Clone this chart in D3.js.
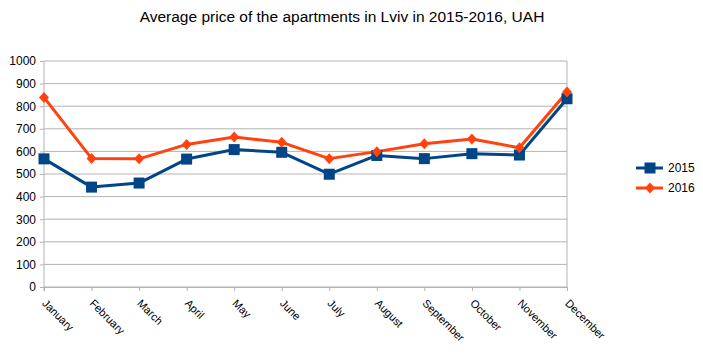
<!DOCTYPE html>
<html>
<head>
<meta charset="utf-8">
<script src="https://cdnjs.cloudflare.com/ajax/libs/d3/7.8.5/d3.min.js"></script>
<style>
  body { margin: 0; background: #fff; }
  svg { font-family: "Liberation Sans", Arial, sans-serif; }
</style>
</head>
<body>
<svg id="vis_svg" width="703" height="357"></svg>
<script>
// chart data
let months = ['January', 'February', 'March', 'April', 'May', 'June',
    'July', 'August', 'September', 'October', 'November', 'December'];
let prices2015 = [567, 442, 460, 566, 608, 596, 499, 582, 568, 590, 584, 833];
let prices2016 = [839, 569, 567, 631, 664, 640, 568, 599, 634, 655, 616, 863];
let yTicks = [0, 100, 200, 300, 400, 500, 600, 700, 800, 900, 1000];
let seriesNames = ['2015', '2016'];
let seriesColors = ['#004586', '#ff420e'];

let svg = d3.select('svg#vis_svg');

let plotLeft = 44, plotRight = 567, plotTop = 61, plotBottom = 287;

let x = d3.scalePoint().domain(months).range([plotLeft, plotRight]);
let y = d3.scaleLinear().domain([0, 1000]).range([plotBottom, plotTop]);

// title
svg.append('text')
    .attr('x', 342)
    .attr('y', 22)
    .attr('text-anchor', 'middle')
    .style('font-size', '15.5px')
    .text('Average price of the apartments in Lviv in 2015-2016, UAH');

// gridlines
svg.append('g')
    .selectAll('line')
    .data(yTicks)
    .enter()
    .append('line')
    .attr('x1', plotLeft)
    .attr('x2', plotRight)
    .attr('y1', d => y(d))
    .attr('y2', d => y(d))
    .attr('stroke', '#b3b3b3')
    .attr('stroke-width', 1);

// right border
svg.append('line')
    .attr('x1', plotRight).attr('x2', plotRight)
    .attr('y1', plotTop).attr('y2', plotBottom)
    .attr('stroke', '#b3b3b3');

// y axis
let yAxis = svg.append('g')
    .attr('transform', 'translate(' + plotLeft + ',0)')
    .call(d3.axisLeft(y).tickValues(yTicks).tickFormat(d3.format('d')).tickSize(4).tickPadding(4));
yAxis.select('.domain').attr('stroke', '#b3b3b3').attr('d', 'M0,' + plotTop + 'V' + (plotBottom + 4));
yAxis.selectAll('.tick line').attr('stroke', '#b3b3b3');
yAxis.selectAll('.tick text')
    .style('font-size', '12px')
    .style('font-family', '"Liberation Sans", Arial, sans-serif')
    .attr('fill', '#000');

// x axis
let xAxis = svg.append('g')
    .attr('transform', 'translate(0,' + plotBottom + ')')
    .call(d3.axisBottom(x).tickSize(4).tickSizeOuter(0));
xAxis.select('.domain').attr('stroke', '#b3b3b3');
xAxis.selectAll('.tick line').attr('stroke', '#b3b3b3');
xAxis.selectAll('.tick text')
    .style('font-size', '11px')
    .style('font-family', '"Liberation Sans", Arial, sans-serif')
    .attr('fill', '#000')
    .attr('text-anchor', 'start')
    .attr('dy', 0)
    .attr('x', 0)
    .attr('y', 0)
    .attr('transform', 'translate(-3,17) rotate(45)');

// lines
let line = d3.line()
    .x((d, i) => x(months[i]))
    .y(d => y(d));

let allSeries = [prices2015, prices2016];
allSeries.forEach(function(values, s) {
    svg.append('path')
        .datum(values)
        .attr('d', line)
        .attr('fill', 'none')
        .attr('stroke', seriesColors[s])
        .attr('stroke-width', 3)
        .attr('stroke-linejoin', 'round');
});

function drawMarker(g, cx, cy, s) {
    if (s === 0) {
        g.append('rect')
            .attr('x', cx - 5.5).attr('y', cy - 5.5)
            .attr('width', 11).attr('height', 11)
            .attr('fill', seriesColors[0]);
    } else {
        g.append('path')
            .attr('d', 'M' + cx + ',' + (cy - 5.5) + 'L' + (cx + 5) + ',' + cy +
                'L' + cx + ',' + (cy + 5.5) + 'L' + (cx - 5) + ',' + cy + 'Z')
            .attr('fill', seriesColors[1]);
    }
}

allSeries.forEach(function(values, s) {
    let g = svg.append('g');
    values.forEach(function(v, i) {
        drawMarker(g, x(months[i]), y(v), s);
    });
});

// legend
seriesNames.forEach(function(name, s) {
    let ly = 168 + s * 20;
    let g = svg.append('g');
    g.append('line')
        .attr('x1', 636).attr('x2', 663)
        .attr('y1', ly).attr('y2', ly)
        .attr('stroke', seriesColors[s])
        .attr('stroke-width', 3);
    drawMarker(g, 650, ly, s);
    g.append('text')
        .attr('x', 668)
        .attr('y', ly)
        .attr('dy', '0.35em')
        .style('font-size', '12px')
        .text(name);
});
</script>
</body>
</html>
